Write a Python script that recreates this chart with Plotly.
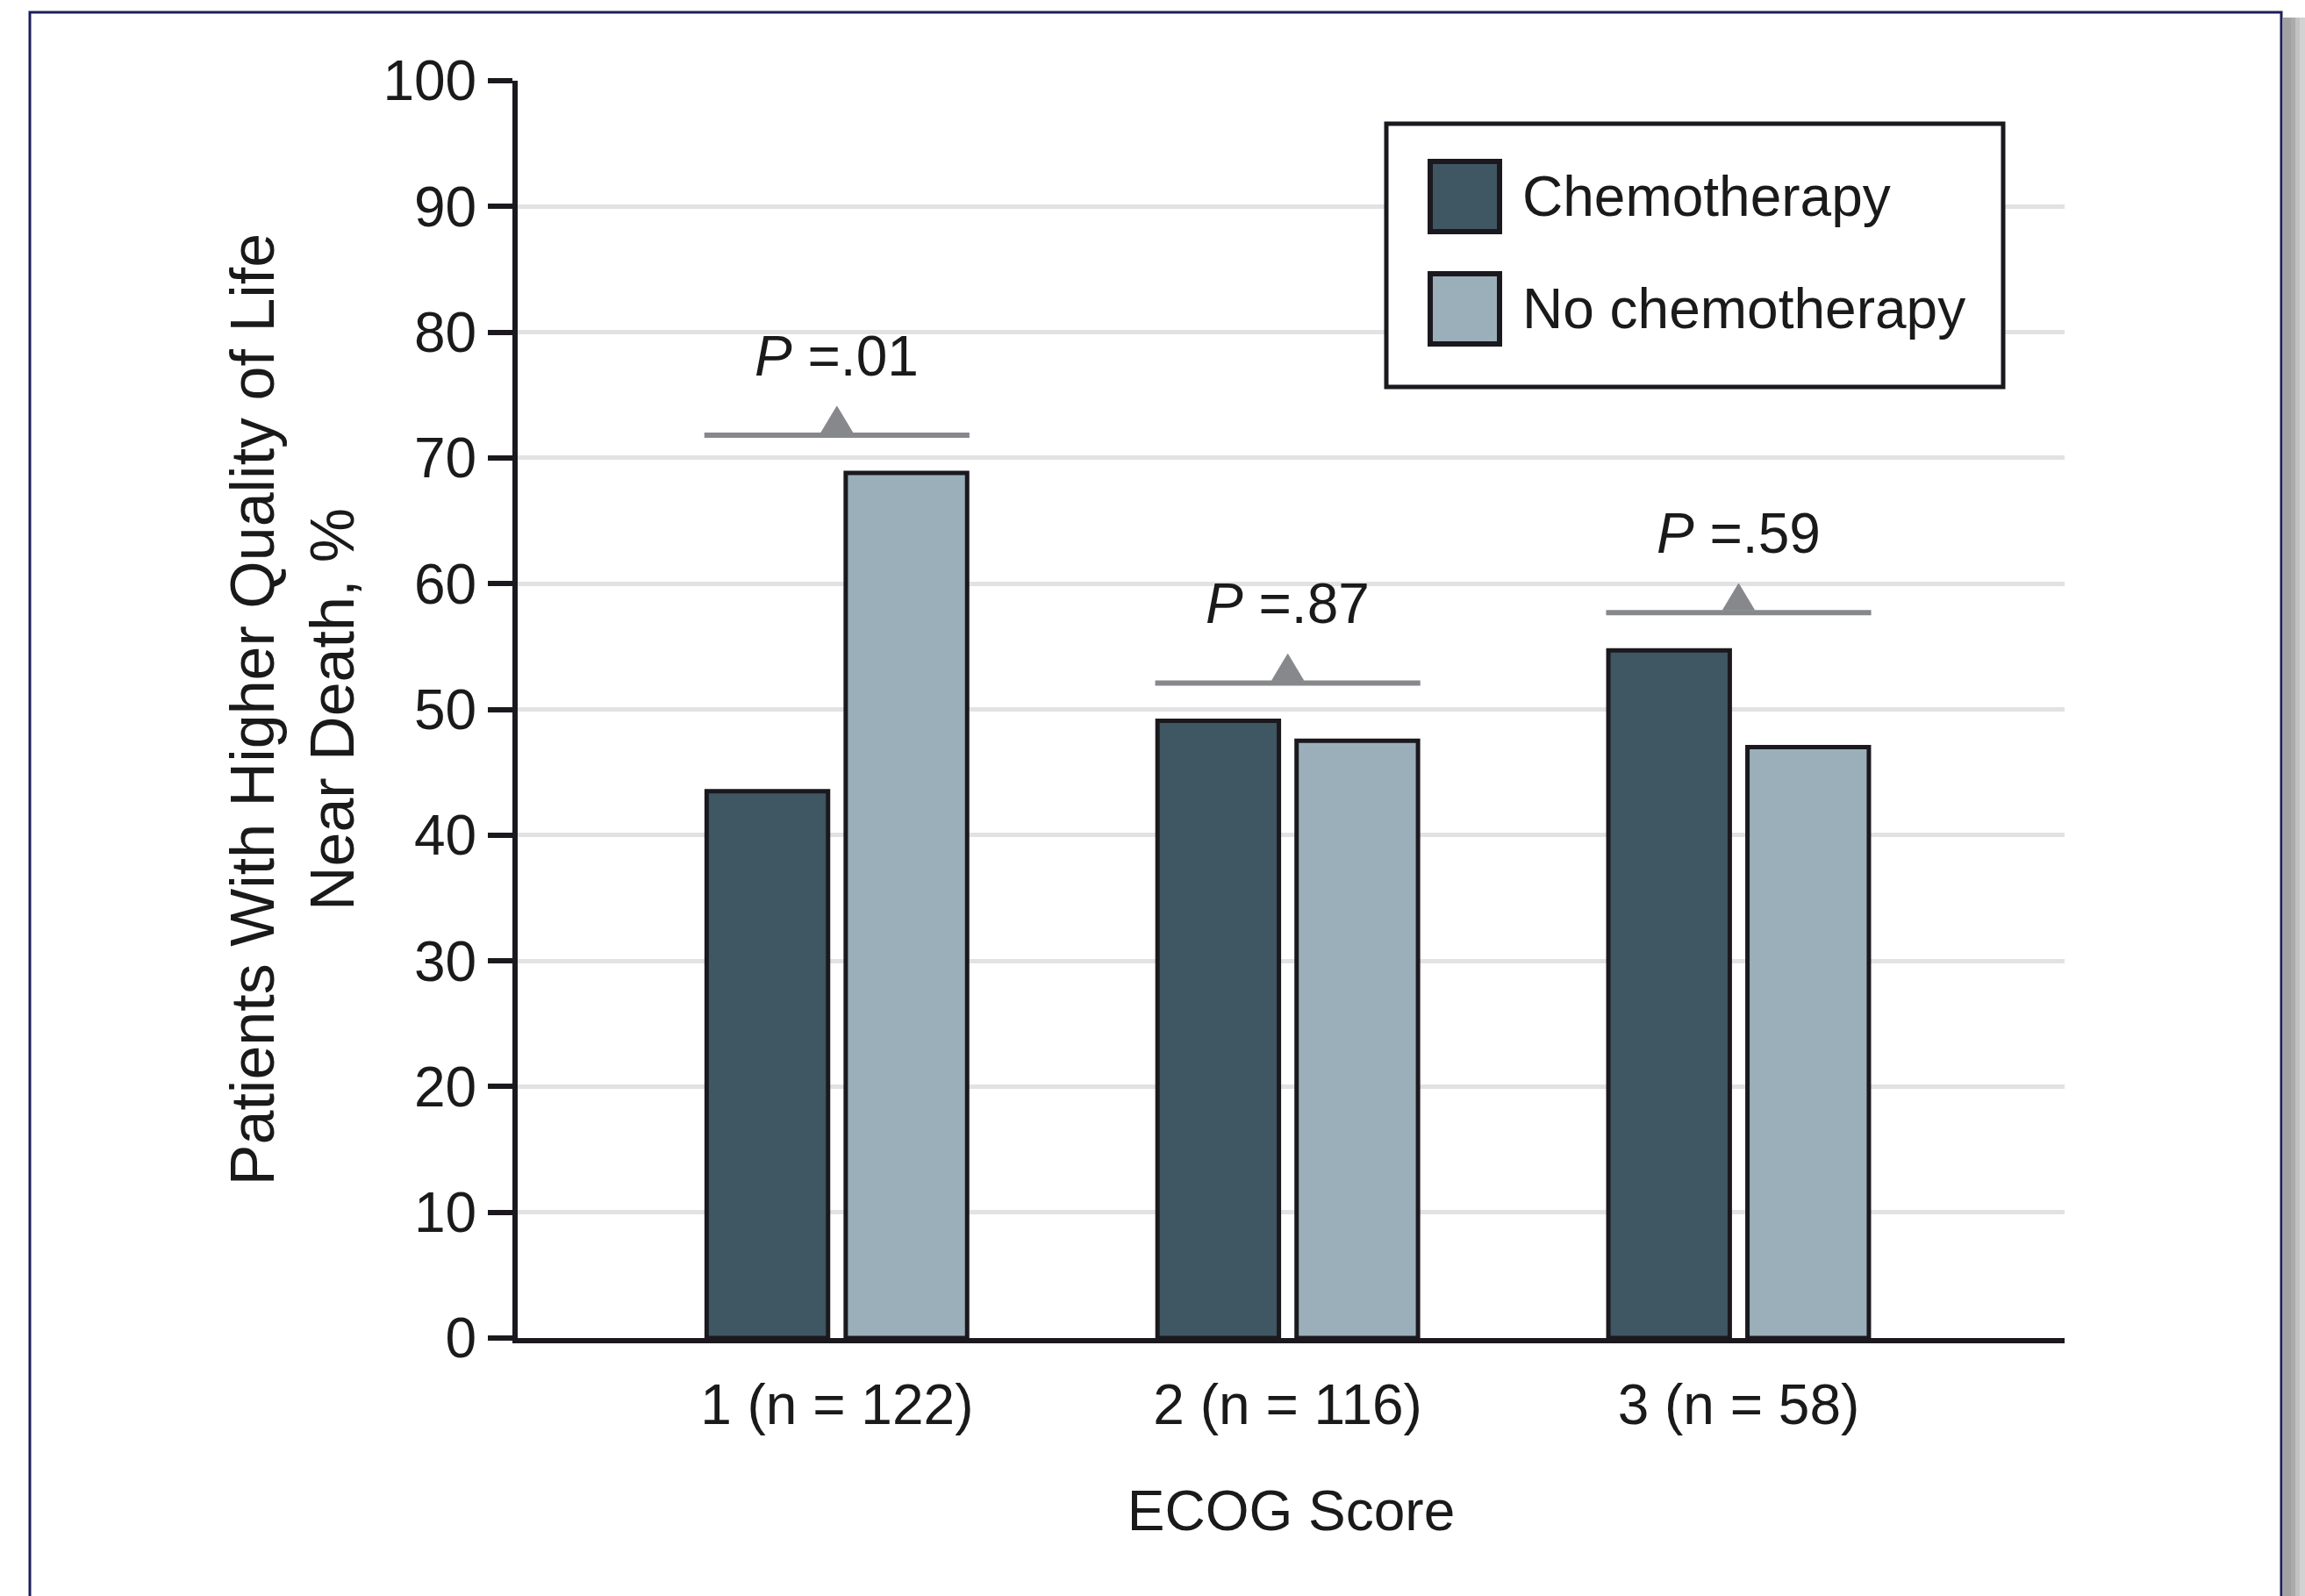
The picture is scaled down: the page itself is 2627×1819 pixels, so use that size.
import plotly.graph_objects as go

# ---------------- data ----------------
categories = ["1 (n = 122)", "2 (n = 116)", "3 (n = 58)"]
chemo = [43.5, 49.1, 54.7]
no_chemo = [68.8, 47.5, 47.0]
p_values = [".01", ".87", ".59"]
series_names = ["Chemotherapy", "No chemotherapy"]

# ---------------- layout constants ----------------
W, H = 2627, 1819
PL, PR, PT, PB = 590, 2353, 92, 1525


def fx(x):
    return (x - PL) / (PR - PL)


def fy(y):
    return (PB - y) / (PB - PT)


DARK = "#3f5663"
LIGHT = "#9aafba"
EDGE = "#1b191e"
GRID = "#e2e2e4"
PGRAY = "#87888c"
NAVY = "#1c1f5c"
TEXT = "#1a1a1a"
FONT = "Liberation Sans, Arial, Helvetica, sans-serif"
FS = 64

xs = list(range(len(categories)))

fig = go.Figure()
for name, vals, col in zip(series_names, [chemo, no_chemo], [DARK, LIGHT]):
    fig.add_bar(x=xs, y=vals, name=name,
                marker=dict(color=col, line=dict(color=EDGE, width=5)),
                showlegend=False)

shapes = []
annotations = []

# P-value brackets
HALF = 0.294
for i, (a, b, p) in enumerate(zip(chemo, no_chemo, p_values)):
    top = max(a, b) + 3.0
    shapes.append(dict(type="line", xref="x", yref="y", x0=i - HALF, x1=i + HALF,
                       y0=top, y1=top, line=dict(color=PGRAY, width=6)))
    shapes.append(dict(type="path", xref="x", yref="y", xsizemode="pixel", ysizemode="pixel",
                       xanchor=i, yanchor=top, path="M -18 3 L 18 3 L 0 33 Z",
                       fillcolor=PGRAY, line=dict(color=PGRAY, width=1)))
    annotations.append(dict(xref="x", yref="y", x=i, y=top, yshift=90, yanchor="middle",
                            xanchor="center", showarrow=False,
                            text="<i>P</i> =" + p, font=dict(size=FS, color=TEXT, family=FONT)))

# custom legend
shapes.append(dict(type="rect", xref="paper", yref="paper", x0=fx(1580), x1=fx(2283),
                   y0=fy(441), y1=fy(141), line=dict(color=EDGE, width=5), fillcolor="white",
                   layer="above"))
for k, (name, col) in enumerate(zip(series_names, [DARK, LIGHT])):
    cy = 224 + k * 128
    shapes.append(dict(type="rect", xref="paper", yref="paper", x0=fx(1630), x1=fx(1709),
                       y0=fy(cy + 40), y1=fy(cy - 40), line=dict(color=EDGE, width=6),
                       fillcolor=col, layer="above"))
    annotations.append(dict(xref="paper", yref="paper", x=fx(1733), y=fy(cy), xanchor="left",
                            yanchor="middle", showarrow=False, text=name,
                            font=dict(size=FS, color=TEXT, family=FONT)))

# outer frame with shadow
shapes.append(dict(type="rect", xref="paper", yref="paper", x0=fx(34), x1=fx(2600),
                   y0=fy(1900), y1=fy(14), line=dict(color=NAVY, width=3), layer="below"))
for (a, b, c) in [(2601.5, 2611, "#a2a2a2"), (2611, 2616, "#ababab"),
                  (2616, 2621, "#c2c2c2"), (2621, 2627, "#d2d2d2")]:
    shapes.append(dict(type="rect", xref="paper", yref="paper", x0=fx(a), x1=fx(b),
                       y0=fy(1900), y1=fy(20), line=dict(width=0), fillcolor=c, layer="below"))

fig.update_layout(
    width=W, height=H,
    margin=dict(l=PL, r=W - PR, t=PT, b=H - PB, pad=0),
    paper_bgcolor="white", plot_bgcolor="white",
    barmode="group", bargap=0.383, bargroupgap=0.127,
    font=dict(family=FONT, size=FS, color=TEXT),
    showlegend=False,
    shapes=shapes, annotations=annotations,
    xaxis=dict(range=[-0.708, 2.723], tickmode="array", tickvals=xs, ticktext=categories,
               showline=True, linecolor=EDGE, linewidth=6, ticks="", showgrid=False,
               zeroline=False, tickfont=dict(size=FS, color=TEXT), ticklabelstandoff=15,
               title=dict(text="ECOG Score", font=dict(size=FS, color=TEXT), standoff=65)),
    yaxis=dict(range=[0, 100], tick0=0, dtick=10, ticks="outside", ticklen=28, tickwidth=6,
               tickcolor=EDGE, showline=True, linecolor=EDGE, linewidth=6,
               showgrid=True, gridcolor=GRID, gridwidth=5, zeroline=False,
               tickfont=dict(size=FS, color=TEXT),
               title=dict(text="Patients With Higher Quality of Life<br>Near Death, %",
                          font=dict(size=70, color=TEXT), standoff=12)),
)

fig.write_html("out.html")
